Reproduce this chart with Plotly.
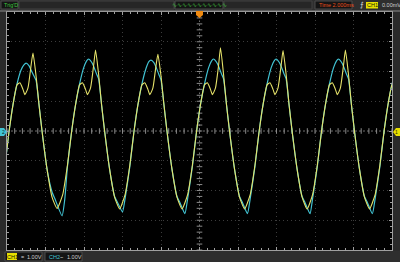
import plotly.graph_objects as go

W, H = 400, 262
L, R, T, B = 7, 8, 12, 12
PW, PH = W - L - R, H - T - B

# ---- data (time in ms, voltage in V) ----
ch1_t = [-10.36, -10.11, -9.90, -9.69, -9.48, -9.33, -9.17, -9.07, -8.91, -8.75, -8.65, -8.49, -8.34, -8.18, -7.92, -7.66, -7.40,
         -7.11, -6.86, -6.65, -6.44, -6.23, -6.08, -5.92, -5.82, -5.66, -5.50, -5.40, -5.24, -5.09, -4.93, -4.67, -4.41, -4.15,
         -3.87, -3.62, -3.41, -3.20, -2.99, -2.84, -2.68, -2.58, -2.42, -2.26, -2.16, -2.00, -1.85, -1.69, -1.43, -1.17, -0.91,
         -0.62, -0.37, -0.16, 0.05, 0.26, 0.41, 0.57, 0.67, 0.83, 0.99, 1.09, 1.25, 1.40, 1.56, 1.82, 2.08, 2.34,
         2.63, 2.88, 3.09, 3.30, 3.51, 3.66, 3.82, 3.92, 4.08, 4.24, 4.34, 4.50, 4.65, 4.81, 5.07, 5.33, 5.59,
         5.87, 6.12, 6.33, 6.54, 6.75, 6.90, 7.06, 7.16, 7.32, 7.48, 7.58, 7.74, 7.89, 8.05, 8.31, 8.57, 8.83,
         9.12, 9.37, 9.58, 9.79, 10.00, 10.15]
ch1_v = [-2.15, -1.15, -0.05, 0.88, 1.55, 1.62, 1.40, 1.22, 1.45, 2.20, 2.62, 1.85, 0.90, 0.00, -1.28, -2.22, -2.60,
         -2.15, -1.15, -0.05, 0.88, 1.55, 1.62, 1.40, 1.22, 1.45, 2.20, 2.72, 1.90, 0.90, 0.00, -1.28, -2.22, -2.62,
         -2.15, -1.15, -0.05, 0.88, 1.55, 1.62, 1.40, 1.22, 1.45, 2.20, 2.58, 1.85, 0.90, 0.00, -1.28, -2.22, -2.62,
         -2.15, -1.15, -0.05, 0.88, 1.55, 1.62, 1.40, 1.22, 1.45, 2.20, 2.80, 1.90, 0.90, 0.00, -1.28, -2.22, -2.62,
         -2.15, -1.15, -0.05, 0.88, 1.55, 1.62, 1.40, 1.22, 1.45, 2.20, 2.70, 1.90, 0.90, 0.00, -1.28, -2.22, -2.62,
         -2.15, -1.15, -0.05, 0.88, 1.55, 1.62, 1.40, 1.22, 1.45, 2.20, 2.72, 1.90, 0.90, 0.00, -1.28, -2.22, -2.62,
         -2.15, -1.15, -0.05, 0.88, 1.55, 1.62]

ch2_t = [-10.35, -10.11, -9.90, -9.69, -9.48, -9.27, -9.12, -9.01, -8.86, -8.75, -8.60, -8.49, -8.34, -8.18, -7.92, -7.66, -7.51, -7.14,
         -7.00, -6.86, -6.65, -6.44, -6.23, -6.02, -5.87, -5.76, -5.61, -5.50, -5.35, -5.24, -5.09, -4.93, -4.67, -4.41, -4.26, -4.00,
         -3.86, -3.62, -3.41, -3.20, -2.99, -2.78, -2.63, -2.52, -2.37, -2.26, -2.11, -2.00, -1.85, -1.69, -1.43, -1.17, -1.02, -0.76,
         -0.61, -0.37, -0.16, 0.05, 0.26, 0.47, 0.62, 0.73, 0.88, 0.99, 1.14, 1.25, 1.40, 1.56, 1.82, 2.08, 2.23, 2.49,
         2.64, 2.88, 3.09, 3.30, 3.51, 3.72, 3.87, 3.98, 4.13, 4.24, 4.39, 4.50, 4.65, 4.81, 5.07, 5.33, 5.48, 5.74,
         5.88, 6.12, 6.33, 6.54, 6.75, 6.96, 7.11, 7.22, 7.37, 7.48, 7.63, 7.74, 7.89, 8.05, 8.31, 8.57, 8.72, 8.98,
         9.13, 9.37, 9.58, 9.79, 10.00, 10.21]
ch2_v = [-2.25, -1.20, -0.05, 0.88, 1.58, 2.05, 2.22, 2.28, 2.20, 2.05, 1.85, 1.70, 0.90, 0.00, -1.28, -2.05, -2.28, -2.85,
         -2.30, -1.20, -0.05, 0.88, 1.58, 2.12, 2.35, 2.42, 2.32, 2.18, 1.92, 1.75, 0.90, 0.00, -1.28, -2.20, -2.40, -2.72,
         -2.25, -1.20, -0.05, 0.88, 1.58, 2.10, 2.33, 2.38, 2.30, 2.15, 1.90, 1.72, 0.90, 0.00, -1.28, -2.20, -2.40, -2.78,
         -2.25, -1.20, -0.05, 0.88, 1.58, 2.12, 2.35, 2.42, 2.32, 2.18, 1.92, 1.75, 0.90, 0.00, -1.28, -2.20, -2.40, -2.78,
         -2.25, -1.20, -0.05, 0.88, 1.58, 2.12, 2.35, 2.42, 2.32, 2.18, 1.92, 1.75, 0.90, 0.00, -1.28, -2.20, -2.40, -2.78,
         -2.25, -1.20, -0.05, 0.88, 1.58, 2.12, 2.35, 2.42, 2.32, 2.18, 1.92, 1.75, 0.90, 0.00, -1.28, -2.20, -2.40, -2.78,
         -2.25, -1.20, -0.05, 0.88, 1.58, 2.12]

x_range = [-10, 10]      # 10 div x 2.000 ms
y_range = [-4, 4]        # 8 div x 1.00 V
trig_text = "Trig'D"
time_text = "Time 2.000ms"
trig_level = "0.00mV"
ch1_scale = "1.00V"
ch2_scale = "1.00V"

YEL = "#e6e36a"
CYA = "#42c4d4"
FONT = "Liberation Sans"


def px(x):
    return (x - L) / PW


def py(y):
    return (H - B - y) / PH


def path(pts):
    return "M " + " L ".join(f"{px(a):.5f},{py(b):.5f}" for a, b in pts) + " Z"


def rect(x0, y0, x1, y1, fill, line=None):
    return dict(type="rect", xref="paper", yref="paper", x0=px(x0), x1=px(x1), y0=py(y1), y1=py(y0),
                fillcolor=fill, line=dict(width=1 if line else 0, color=line or fill), layer="above")


def text(x, y, s, color, size=6, bg=None, anchor="left"):
    return dict(xref="paper", yref="paper", x=px(x), y=py(y), text=s, showarrow=False,
                xanchor=anchor, yanchor="middle", font=dict(family=FONT, size=size, color=color),
                bgcolor=bg, borderpad=0)


fig = go.Figure()

# centre-cross tick marks (1/5 division)
tx = [i * 0.4 for i in range(-25, 26)]
fig.add_trace(go.Scatter(x=tx, y=[0] * len(tx), mode="markers", hoverinfo="skip", showlegend=False,
                         marker=dict(symbol="line-ns", size=4, line=dict(width=1, color="#8a8a8a"))))
ty = [i * 0.2 for i in range(-20, 21)]
fig.add_trace(go.Scatter(x=[0] * len(ty), y=ty, mode="markers", hoverinfo="skip", showlegend=False,
                         marker=dict(symbol="line-ew", size=4, line=dict(width=1, color="#8a8a8a"))))

fig.add_trace(go.Scatter(x=ch2_t, y=ch2_v, mode="lines", name="CH2", showlegend=False,
                         line=dict(color=CYA, width=1.2, shape="spline", smoothing=0.5)))
fig.add_trace(go.Scatter(x=ch1_t, y=ch1_v, mode="lines", name="CH1", showlegend=False,
                         line=dict(color=YEL, width=1.1, shape="spline", smoothing=0.5)))

ax = dict(showgrid=True, gridcolor="#3c3c3c", griddash="1px,3px", gridwidth=1, zeroline=False,
          showticklabels=False, ticks="inside", ticklen=3, tickcolor="#a0a0a0",
          showline=True, linecolor="#a0a0a0", linewidth=1, mirror="ticks", fixedrange=True)
fig.update_xaxes(range=x_range, dtick=2, minor=dict(dtick=0.4, ticks="inside", ticklen=2, tickcolor="#a0a0a0"), **ax)
fig.update_yaxes(range=y_range, dtick=1, minor=dict(dtick=0.2, ticks="inside", ticklen=2, tickcolor="#a0a0a0"), **ax)

shapes = [
    # centre cross lines
    dict(type="line", xref="x", yref="y", x0=x_range[0], x1=x_range[1], y0=0, y1=0,
         line=dict(color="#6a6a6a", width=1, dash="2px,2px"), layer="below"),
    dict(type="line", xref="x", yref="y", x0=0, x1=0, y0=y_range[0], y1=y_range[1],
         line=dict(color="#6a6a6a", width=1, dash="2px,2px"), layer="below"),
    # top bar
    rect(0, 0, 400, 10.5, "#2e2e2e"),
    rect(1, 1, 18, 9, "#141414", "#4a4a4a"),
    rect(19, 1, 174, 9, "#262626", "#404040"),
    rect(175, 1, 223, 9, "#141414", "#4a4a4a"),
    rect(224, 1, 312, 9, "#262626", "#404040"),
    rect(315, 1, 352, 9, "#141414", "#4a4a4a"),
    rect(366, 2, 378, 8.5, "#e8e000"),
    dict(type="line", xref="paper", yref="paper", x0=px(0), x1=px(400), y0=py(11), y1=py(11),
         line=dict(color="#8c8c8c", width=1)),
    # bottom bar
    rect(0, 251, 400, 262, "#2e2e2e"),
    rect(5, 252, 42, 261, "#141414", "#4a4a4a"),
    rect(45, 252, 82, 261, "#141414", "#4a4a4a"),
    rect(7, 253, 17, 260, "#e8e000"),
    # ground / trigger markers
    dict(type="path", xref="paper", yref="paper", path=path([(0, 128), (4, 128), (7, 132), (4, 136), (0, 136)]),
         fillcolor=CYA, line=dict(width=0)),
    dict(type="path", xref="paper", yref="paper", path=path([(400, 128), (396, 128), (393, 132), (396, 136), (400, 136)]),
         fillcolor="#e8e000", line=dict(width=0)),
    dict(type="path", xref="paper", yref="paper", path=path([(196, 11), (203, 11), (203, 15), (199.5, 18), (196, 15)]),
         fillcolor="#f08a10", line=dict(width=0)),
]

annotations = [
    text(2.5, 5, trig_text, "#3cc83c", 5.5),
    text(199, 5, "∿∿∿∿∿∿∿∿∿∿∿", "#3cb83c", 6, anchor="center"),
    text(318, 5, time_text, "#e8501c", 5.5),
    text(359, 5, "⨍", "#e0e0e0", 7),
    text(372, 5.2, "CH1", "#202000", 5.5, anchor="center"),
    text(381, 5, trig_level, "#d0d0d0", 5.5),
    text(12, 256.5, "CH1", "#202000", 5.5, anchor="center"),
    text(19.5, 256.5, "=", "#d0d0d0", 5.5),
    text(26, 256.5, ch1_scale, "#d0d0d0", 5.5),
    text(48, 256.5, "CH2", CYA, 5.5),
    text(59.5, 256.5, "~", "#d0d0d0", 5.5),
    text(66, 256.5, ch2_scale, "#d0d0d0", 5.5),
    text(3, 132, "2", "#003030", 5, anchor="center"),
    text(397, 132, "1", "#303000", 5, anchor="center"),
]

fig.update_layout(width=W, height=H, margin=dict(l=L, r=R, t=T, b=B, pad=0),
                  paper_bgcolor="#2a2a2a", plot_bgcolor="#000000",
                  shapes=shapes, annotations=annotations, showlegend=False)

fig.write_html("out.html", config=dict(displayModeBar=False, staticPlot=True))
